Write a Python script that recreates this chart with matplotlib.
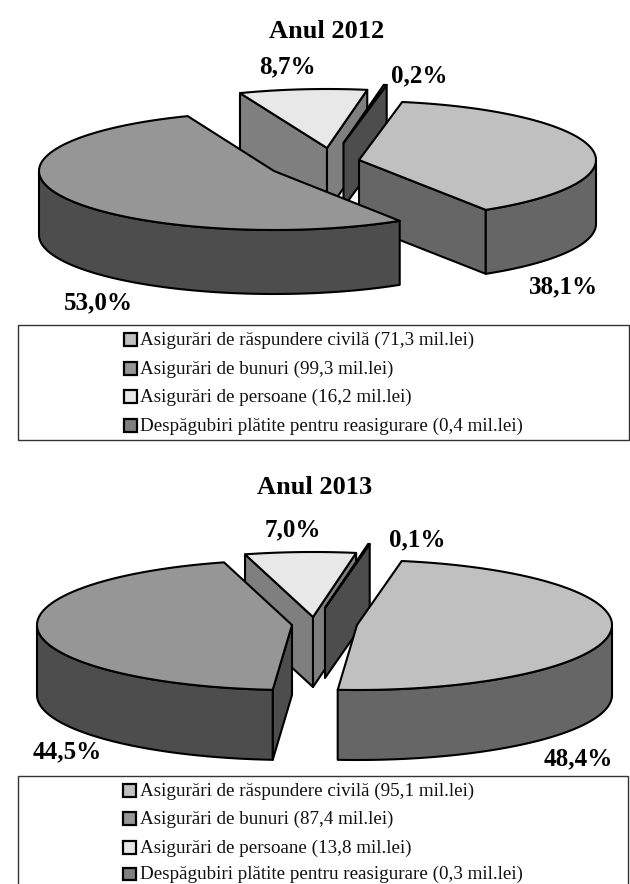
import numpy as np
import matplotlib
matplotlib.use("Agg")
import matplotlib.pyplot as plt
from matplotlib.patches import Polygon, Rectangle

plt.rcParams['font.family'] = ['Liberation Serif', 'DejaVu Serif']

# shares in percent
categories = ["Asigurări de răspundere civilă", "Asigurări de bunuri",
              "Asigurări de persoane", "Despăgubiri plătite pentru reasigurare"]
shares_2012 = [38.1, 53.0, 8.7, 0.2]
shares_2013 = [48.4, 44.5, 7.0, 0.1]
amounts_2012 = ["71,3", "99,3", "16,2", "0,4"]
amounts_2013 = ["95,1", "87,4", "13,8", "0,3"]
share_labels_2012 = ["38,1%", "53,0%", "8,7%", "0,2%"]
share_labels_2013 = ["48,4%", "44,5%", "7,0%", "0,1%"]

# colours per slice
top_colors = ["#c0c0c0", "#969696", "#e8e8e8", "#7f7f7f"]
side_colors = ["#666666", "#4d4d4d", "#7f7f7f", "#4d4d4d"]
key_colors = ["#c0c0c0", "#969696", "#e8e8e8", "#7f7f7f"]

# exploded slice centres and radii, in pixels
centres_2012 = [(359, 160), (274, 171), (327, 148), (343.5, 143)]
centres_2013 = [(357, 625), (292, 625), (313, 617), (325, 608)]
radii_2012 = [237, 235, 237, 237]
radii_2013 = [255, 255, 255, 255]

LW = 1.5


def rim(c, rx, ry, t):
    t = np.radians(t)
    return np.column_stack([c[0] + rx * np.sin(t), c[1] - ry * np.cos(t)])


def draw_pie(ax, shares, centres, radii, start, ry, depth):
    edges = start + np.cumsum([0] + list(shares)) * 3.6
    # back slices first, then the right one, then the left one in front
    for i in [2, 3, 0, 1]:
        a, b = edges[i], edges[i + 1]
        c = centres[i]
        rx = radii[i]
        down = np.array([0, depth])
        # radial walls, only if they face the viewer
        for t, n in [(a, a - 90), (b, b + 90)]:
            if np.cos(np.radians(n)) < 0:
                p = rim(c, rx, ry, np.array([t]))[0]
                pts = np.array([c, p, p + down, np.array(c) + down])
                ax.add_patch(Polygon(pts, fc=side_colors[i], ec="black", lw=LW, joinstyle="round"))
        # curved outer wall
        lo, hi = max(a, 90), min(b, 270)
        if hi > lo:
            arc = rim(c, rx, ry, np.linspace(lo, hi, 80))
            pts = np.vstack([arc, (arc + down)[::-1]])
            ax.add_patch(Polygon(pts, fc=side_colors[i], ec="black", lw=LW, joinstyle="round"))
        # top face
        arc = rim(c, rx, ry, np.linspace(a, b, 120))
        pts = np.vstack([[c], arc])
        ax.add_patch(Polygon(pts, fc=top_colors[i], ec="black", lw=LW, joinstyle="round"))


def draw_legend(ax, box, amounts, key_x, ys):
    ax.add_patch(Rectangle((box[0], box[1]), box[2], box[3], fc="white", ec="#333333", lw=1.0))
    for name, amount, color, y in zip(categories, amounts, key_colors, ys):
        ax.add_patch(Rectangle((key_x, y - 6), 12.5, 12.5, fc=color, ec="black", lw=1.6))
        ax.text(key_x + 16.5, y + 1, f"{name} ({amount} mil.lei)", fontsize=13.7, va="center", ha="left", color="#111111")


fig = plt.figure(figsize=(6.3, 8.84), dpi=100)
ax = fig.add_axes([0, 0, 1, 1])
ax.set_xlim(0, 630)
ax.set_ylim(884, 0)
ax.axis("off")

draw_pie(ax, shares_2012, centres_2012, radii_2012, 10.5, 59, 64)
draw_pie(ax, shares_2013, centres_2013, radii_2013, 10.1, 65, 70)

ax.text(327, 31, "Anul 2012", fontsize=19, fontweight="bold", ha="center", va="center")
ax.text(315, 488, "Anul 2013", fontsize=19, fontweight="bold", ha="center", va="center")

for s, x, y in zip(share_labels_2012, [563, 98, 287, 419], [287, 303, 67, 76]):
    ax.text(x, y, s, fontsize=18, fontweight="bold", ha="center", va="center")
for s, x, y in zip(share_labels_2013, [578, 67, 293, 417], [759, 752, 530, 540]):
    ax.text(x, y, s, fontsize=18, fontweight="bold", ha="center", va="center")

draw_legend(ax, (17.5, 325, 611, 115), amounts_2012, 124, [339, 368, 396, 425])
draw_legend(ax, (17.5, 776, 610, 140), amounts_2013, 123, [790, 818, 847, 873.5])

fig.savefig("out.png", dpi=100)
